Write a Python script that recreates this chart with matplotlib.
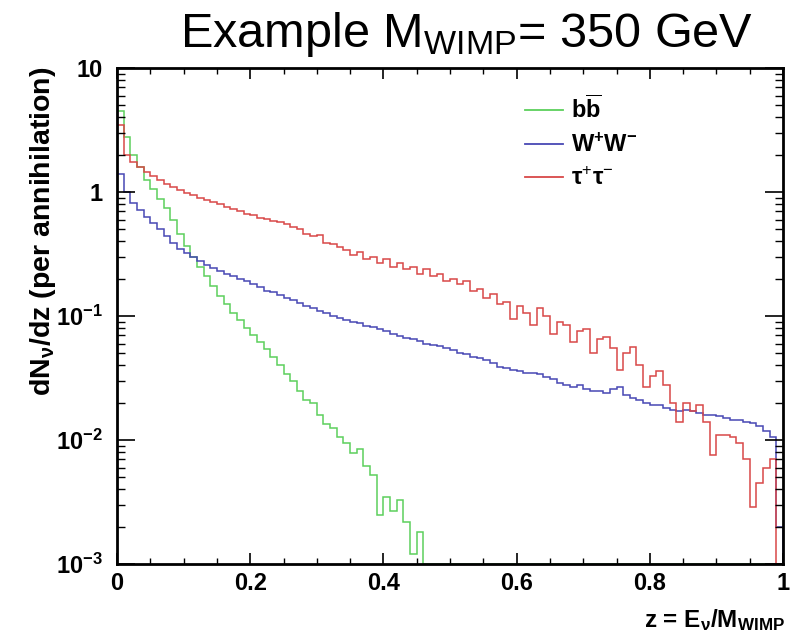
import numpy as np
import matplotlib
matplotlib.use("Agg")
import matplotlib.pyplot as plt
from matplotlib.lines import Line2D
from matplotlib.ticker import MultipleLocator, LogLocator, NullFormatter

plt.rcParams['font.family'] = ['Liberation Sans', 'DejaVu Sans']
plt.rcParams['mathtext.fontset'] = 'custom'
plt.rcParams['mathtext.rm'] = 'Liberation Sans'
plt.rcParams['mathtext.it'] = 'Liberation Sans:italic'
plt.rcParams['mathtext.bf'] = 'Liberation Sans:bold'

# ---------------- data (100 bins of width 0.01 in z) ----------------
n_bins = 100
z_min, z_max = 0.0, 1.0

bb_values = [
    4.5, 2.8, 2.0, 1.6, 1.25, 1.05, 0.88, 0.74, 0.60, 0.46,
    0.37, 0.30, 0.25, 0.21, 0.175, 0.145, 0.125, 0.105, 0.092, 0.080,
    0.070, 0.062, 0.054, 0.047, 0.040, 0.034, 0.030, 0.025, 0.021, 0.020,
    0.016, 0.0135, 0.0125, 0.0105, 0.0095, 0.0078, 0.0085, 0.0062, 0.0052, 0.0025,
    0.0035, 0.0027, 0.0033, 0.0022, 0.0012, 0.0018, 0, 0, 0, 0,
    0, 0, 0, 0, 0, 0, 0, 0, 0, 0,
    0, 0, 0, 0, 0, 0, 0, 0, 0, 0,
    0, 0, 0, 0, 0, 0, 0, 0, 0, 0,
    0, 0, 0, 0, 0, 0, 0, 0, 0, 0,
    0, 0, 0, 0, 0, 0, 0, 0, 0, 0,
]

ww_values = [
    1.4, 1.0, 0.82, 0.72, 0.63, 0.56, 0.50, 0.44, 0.39, 0.35,
    0.32, 0.30, 0.28, 0.26, 0.245, 0.23, 0.22, 0.21, 0.20, 0.19,
    0.18, 0.17, 0.16, 0.155, 0.148, 0.14, 0.135, 0.127, 0.12, 0.115,
    0.11, 0.105, 0.10, 0.097, 0.093, 0.090, 0.087, 0.083, 0.081, 0.078,
    0.075, 0.072, 0.069, 0.067, 0.065, 0.063, 0.060, 0.058, 0.057, 0.055,
    0.053, 0.050, 0.049, 0.047, 0.046, 0.044, 0.042, 0.039, 0.038, 0.037,
    0.036, 0.035, 0.035, 0.034, 0.032, 0.031, 0.029, 0.028, 0.027, 0.028,
    0.026, 0.025, 0.025, 0.024, 0.026, 0.027, 0.023, 0.022, 0.021, 0.020,
    0.019, 0.019, 0.018, 0.0175, 0.017, 0.0175, 0.017, 0.0165, 0.016, 0.016,
    0.0155, 0.015, 0.0145, 0.0145, 0.014, 0.0138, 0.013, 0.0118, 0.0105, 0.002,
]

tt_values = [
    3.5, 2.0, 1.75, 1.6, 1.45, 1.35, 1.25, 1.17, 1.10, 1.03,
    0.98, 0.94, 0.90, 0.86, 0.83, 0.80, 0.76, 0.73, 0.70, 0.67,
    0.65, 0.62, 0.61, 0.58, 0.57, 0.55, 0.52, 0.50, 0.46, 0.44,
    0.45, 0.39, 0.38, 0.36, 0.34, 0.31, 0.33, 0.29, 0.30, 0.27,
    0.29, 0.25, 0.27, 0.24, 0.25, 0.22, 0.24, 0.21, 0.22, 0.19,
    0.20, 0.18, 0.19, 0.16, 0.165, 0.14, 0.15, 0.125, 0.13, 0.095,
    0.12, 0.105, 0.085, 0.115, 0.10, 0.072, 0.09, 0.085, 0.062, 0.075,
    0.078, 0.050, 0.065, 0.068, 0.055, 0.037, 0.050, 0.056, 0.040, 0.027,
    0.033, 0.036, 0.028, 0.020, 0.014, 0.020, 0.017, 0.019, 0.014, 0.0075,
    0.011, 0.011, 0.0105, 0.0095, 0.007, 0.0029, 0.0045, 0.006, 0.007, 0.0,
]

series_labels = [r"b$\mathbf{\overline{b}}$", r"W$^{\mathbf{+}}$W$^{\mathbf{-}}$", r"τ$^{+}$τ$^{-}$"]
series_colors = ["#5cd05c", "#4848b4", "#d84848"]

x_tick_values = [0, 0.2, 0.4, 0.6, 0.8, 1.0]
x_tick_labels = ["0", "0.2", "0.4", "0.6", "0.8", "1"]
y_tick_values = [1e-3, 1e-2, 1e-1, 1, 10]
y_tick_labels = [r"10$^{\mathbf{-3}}$", r"10$^{\mathbf{-2}}$", r"10$^{\mathbf{-1}}$", "1", "10"]

# ---------------- figure ----------------
W, H = 790, 632
fig = plt.figure(figsize=(W / 100, H / 100), dpi=100)
ax = fig.add_axes([117 / W, 1 - 564 / H, (783 - 117) / W, (564 - 68) / H])

y_floor = 1e-3
edges = np.linspace(z_min, z_max, n_bins + 1)
for vals, col in zip([bb_values, ww_values, tt_values], series_colors):
    v = np.clip(np.asarray(vals, dtype=float), y_floor, None)
    ax.stairs(v, edges, baseline=y_floor, color=col, linewidth=1.1)

ax.set_yscale("log")
ax.set_xlim(z_min, z_max)
ax.set_ylim(1e-3, 10)

ax.set_xticks(x_tick_values)
ax.set_xticklabels(x_tick_labels, fontsize=17, fontweight="bold")
ax.xaxis.set_minor_locator(MultipleLocator(0.05))
ax.set_yticks(y_tick_values)
ax.set_yticklabels(y_tick_labels, fontsize=17, fontweight="bold")
ax.yaxis.set_minor_locator(LogLocator(base=10, subs=np.arange(2, 10)))
ax.yaxis.set_minor_formatter(NullFormatter())

ax.tick_params(axis="x", which="major", direction="in", length=8, width=1.2,
               top=True, bottom=True, pad=6)
ax.tick_params(axis="x", which="minor", direction="in", length=4, width=1.0,
               top=True, bottom=True)
ax.tick_params(axis="y", which="major", direction="in", length=13, width=1.2,
               left=True, right=True, pad=10)
ax.tick_params(axis="y", which="minor", direction="in", length=6, width=1.0,
               left=True, right=True)
for s in ax.spines.values():
    s.set_linewidth(2.0)

# titles
fig.text(180 / W, 1 - 47 / H, r"Example M$_{\mathrm{WIMP}}$= 350 GeV",
         fontsize=35, ha="left", va="baseline")
fig.text(43 / W, 1 - 67 / H, r"dN$_{\mathbf{ν}}$/dz (per annihilation)",
         fontsize=20.5, fontweight="bold", rotation=90, ha="center", va="top")
fig.text(785 / W, 1 - 620 / H, r"z = E$_{\mathbf{ν}}$/M$_{\mathbf{WIMP}}$",
         fontsize=17.5, fontweight="bold", ha="right", va="center")

# legend
handles = [Line2D([], [], color=c, linewidth=1.3) for c in series_colors]
leg = fig.legend(handles, series_labels, loc="upper left",
                 bbox_to_anchor=(525 / W, 1 - 95 / H), frameon=False,
                 prop={"size": 17, "weight": "bold"},
                 handlelength=1.6, handletextpad=0.35, labelspacing=0.45,
                 borderpad=0, borderaxespad=0)

fig.savefig("out.png", dpi=100)
